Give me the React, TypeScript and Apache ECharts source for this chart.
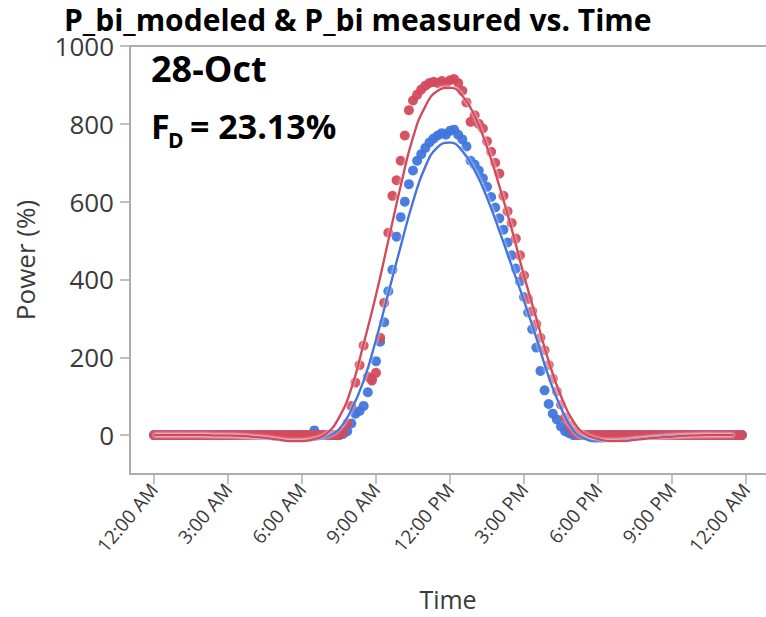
import React, { useEffect, useRef } from "react";
import * as echarts from "echarts";

// Measured values, one every 10 minutes starting 12:00 AM (144 per series)
const measuredStartHour = 0;
const measuredStepHours = 10 / 60;
const redMeasured = [
  0, 0, 0, 0, 0, 0, 0, 0, 0, 0, 0, 0,
  0, 0, 0, 0, 0, 0, 0, 0, 0, 0, 0, 0,
  0, 0, 0, 0, 0, 0, 0, 0, 0, 0, 0, 0,
  0, 0, 0, 0, 0, 0, 0, 0, 0, 0, 8, 30,
  75, 135, 180, 230, 150, 140, 160, 250, 340, 520, 615, 655,
  705, 770, 835, 860, 875, 888, 898, 905, 908, 905, 910, 904,
  912, 915, 905, 885, 855, 805, 822, 800, 788, 755, 728, 700,
  672, 615, 575, 545, 505, 462, 410, 350, 318, 285, 250, 218,
  180, 145, 112, 78, 45, 25, 10, 2, 0, 0, 0, 0,
  0, 0, 0, 0, 0, 0, 0, 0, 0, 0, 0, 0,
  0, 0, 0, 0, 0, 0, 0, 0, 0, 0, 0, 0,
  0, 0, 0, 0, 0, 0, 0, 0, 0, 0, 0, 0,
];
const blueMeasured = [
  0, 0, 0, 0, 0, 0, 0, 0, 0, 0, 0, 0,
  0, 0, 0, 0, 0, 0, 0, 0, 0, 0, 0, 0,
  0, 0, 0, 0, 0, 0, 0, 0, 0, 0, 0, 0,
  0, 0, 0, 12, 0, 0, 0, 0, 0, 0, 3, 10,
  30, 55, 62, 75, 110, 145, 190, 240, 290, 370, 425, 510,
  560, 600, 645, 680, 705, 722, 738, 752, 762, 770, 776, 772,
  782, 785, 772, 760, 742, 705, 695, 680, 660, 638, 612, 585,
  557, 528, 495, 462, 428, 395, 355, 315, 272, 225, 165, 115,
  80, 55, 40, 22, 10, 5, 0, 0, 0, 0, 0, 0,
  0, 0, 0, 0, 0, 0, 0, 0, 0, 0, 0, 0,
  0, 0, 0, 0, 0, 0, 0, 0, 0, 0, 0, 0,
  0, 0, 0, 0, 0, 0, 0, 0, 0, 0, 0, 0,
];

// Modeled values, one every 30 minutes starting 12:00 AM
const modelStartHour = 0;
const modelStepHours = 0.5;
const redModel = [
  0, 0, 0, 0, 0, -1, -1, -2, -4, -7, -11, -15,
  -15, -10, 4, 45, 120, 235, 360, 500, 640, 765, 845, 885,
  893, 872, 820, 740, 640, 530, 410, 300, 190, 100, 35, 2,
  -10, -15, -15, -12, -9, -6, -4, -2, -1, 0, 0, 0,
];
const blueModel = [
  0, 0, 0, 0, 0, -1, -1, -3, -5, -8, -12, -15,
  -15, -12, -4, 15, 65, 140, 245, 365, 485, 600, 690, 740,
  752, 730, 680, 610, 525, 435, 345, 250, 150, 70, 12, -10,
  -16, -15, -13, -10, -7, -4, -2, -1, 0, 0, 0, 0,
];

const xTickHours = [0, 3, 6, 9, 12, 15, 18, 21, 24];
const xTickLabels = ["12:00 AM", "3:00 AM", "6:00 AM", "9:00 AM", "12:00 PM", "3:00 PM", "6:00 PM", "9:00 PM", "12:00 AM"];
const yTicks = [0, 200, 400, 600, 800, 1000];

const RED = "#D44A5C";
const BLUE = "#3F76DE";
const AXIS = "#ADADAD";
const LABEL = "#3A3A3A";

function toPairs(values: number[], start: number, step: number) {
  return values.map((v, i) => [start + i * step, v]);
}

export default function App() {
  const ref = useRef<HTMLDivElement>(null);
  useEffect(() => {
    document.body.style.margin = "0";
    const chart = echarts.init(ref.current!, undefined, { renderer: "svg" });
    const font = "'Open Sans', sans-serif";
    chart.setOption({
      animation: false,
      backgroundColor: "#ffffff",
      title: {
        text: "P_bi_modeled & P_bi measured vs. Time",
        left: 64,
        top: 4,
        padding: 0,
        textStyle: { fontFamily: font, fontWeight: "bold", fontSize: 30, color: "#000" },
      },
      grid: { left: 130, right: 0, top: 46, bottom: 143, outerBoundsMode: "none", containLabel: false },
      xAxis: [
        {
          type: "value",
          min: -0.973,
          max: 24.81,
          name: "Time",
          nameLocation: "middle",
          nameGap: 112,
          nameTextStyle: { fontFamily: font, fontSize: 25, color: LABEL },
          axisLine: { show: true, onZero: false, lineStyle: { color: AXIS, width: 2 } },
          axisTick: { show: true, customValues: xTickHours, length: 10, lineStyle: { color: AXIS, width: 1.5 } },
          axisLabel: {
            customValues: xTickHours,
            rotate: 50,
            fontFamily: font,
            fontSize: 19,
            color: LABEL,
            margin: 12,
            formatter: (v: number) => xTickLabels[xTickHours.indexOf(Math.round(v))] ?? "",
          },
          splitLine: { show: false },
        },
        {
          type: "value",
          position: "top",
          min: -0.973,
          max: 24.81,
          axisLine: { show: true, onZero: false, lineStyle: { color: AXIS, width: 2 } },
          axisTick: { show: false },
          axisLabel: { show: false },
          splitLine: { show: false },
        },
      ],
      yAxis: {
        type: "value",
        min: -100,
        max: 1000,
        name: "Power (%)",
        nameLocation: "middle",
        nameGap: 92,
        nameTextStyle: { fontFamily: font, fontSize: 26, color: LABEL },
        axisLine: { show: true, onZero: false, lineStyle: { color: AXIS, width: 2 } },
        axisTick: { show: true, customValues: yTicks, length: 10, lineStyle: { color: AXIS, width: 1.5 } },
        axisLabel: {
          customValues: yTicks,
          fontFamily: font,
          fontSize: 26,
          color: LABEL,
          margin: 16,
          formatter: (v: number) => String(v),
        },
        splitLine: { show: false },
      },
      graphic: [
        { type: "text", left: 151, top: 50, style: { text: "28-Oct", font: "bold 36px 'Open Sans', sans-serif", fill: "#000" } },
        { type: "text", left: 151, top: 109, style: { text: "F", font: "bold 34px 'Open Sans', sans-serif", fill: "#000" } },
        { type: "text", left: 168, top: 129, style: { text: "D", font: "bold 21px 'Open Sans', sans-serif", fill: "#000" } },
        { type: "text", left: 190, top: 109, style: { text: "= 23.13%", font: "bold 34px 'Open Sans', sans-serif", fill: "#000" } },
      ],
      series: [
        {
          type: "scatter",
          name: "P_bi measured (blue)",
          xAxisIndex: 0,
          data: toPairs(blueMeasured, measuredStartHour, measuredStepHours),
          symbolSize: 10,
          itemStyle: { color: BLUE, opacity: 0.95 },
          z: 2,
        },
        {
          type: "scatter",
          name: "P_bi measured (red)",
          xAxisIndex: 0,
          data: toPairs(redMeasured, measuredStartHour, measuredStepHours),
          symbolSize: 10,
          itemStyle: { color: RED, opacity: 0.95 },
          z: 3,
        },
        {
          type: "line",
          name: "P_bi_modeled (blue)",
          xAxisIndex: 0,
          data: toPairs(blueModel, modelStartHour, modelStepHours),
          smooth: true,
          showSymbol: false,
          lineStyle: { color: BLUE, width: 2.5, shadowColor: "rgba(255,255,255,0.9)", shadowBlur: 3 },
          z: 4,
        },
        {
          type: "line",
          name: "P_bi_modeled (red)",
          xAxisIndex: 0,
          data: toPairs(redModel, modelStartHour, modelStepHours),
          smooth: true,
          showSymbol: false,
          lineStyle: { color: RED, width: 2.5, shadowColor: "rgba(255,255,255,0.9)", shadowBlur: 3 },
          z: 5,
        },
      ],
    });
    return () => chart.dispose();
  }, []);
  return <div ref={ref} style={{ position: "fixed", left: 0, top: 0, width: 766, height: 617 }} />;
}
